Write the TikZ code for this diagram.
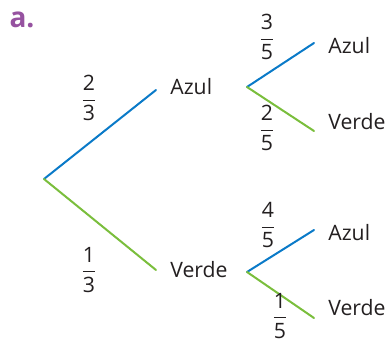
\documentclass[tikz,border=0pt]{standalone}
\usepackage{fontspec}
\setmainfont{Open Sans}
\definecolor{ramoazul}{RGB}{10,122,200}
\definecolor{ramoverde}{RGB}{122,190,60}
\definecolor{letra}{RGB}{150,82,160}
\definecolor{texto}{RGB}{35,31,32}
\newcommand{\fr}[2]{$\displaystyle\frac{\mbox{#1}}{\mbox{#2}}$}
\tikzset{
  azul/.style={draw=ramoazul, line width=1pt},
  verde/.style={draw=ramoverde, line width=1pt},
  rotulo/.style={anchor=west, inner sep=0pt, text=texto},
  prob/.style={inner sep=0pt, text=texto}
}
\begin{document}
\begin{tikzpicture}[x=0.5pt, y=0.5pt, font=\fontsize{10.6}{13}\selectfont, line join=round, line cap=round]
				\useasboundingbox (0,0) rectangle (386,342);
				\path
				(44,163) coordinate (R)
				(156,252) coordinate (A)
				(156,72) coordinate (V)
				(247,255) coordinate (AR)
				(314,299) coordinate (AA)
				(314,211) coordinate (AV)
				(247,70) coordinate (VR)
				(314,112) coordinate (VA)
				(314,24) coordinate (VV)
				;
				\node[text=letra, font=\fontsize{14}{16}\selectfont\bfseries] (item) at (22,322) {a.};
				\node[rotulo] (azul) at (170,255) {Azul};
				\node[rotulo] (verde) at (170,72) {Verde};
				\node[rotulo] (azulazul) at (328,296) {Azul};
				\node[rotulo] (azulverde) at (328,220) {Verde};
				\node[rotulo] (verdeazul) at (328,109) {Azul};
				\node[rotulo] (verdeverde) at (328,34) {Verde};
				\draw[azul] (R)--(A);
				\draw[verde] (R)--(V);
				\draw[azul] (AR)--(AA);
				\draw[verde] (AR)--(AV);
				\draw[azul] (VR)--(VA);
				\draw[verde] (VR)--(VV);
				\node[prob] (pA) at (89,244) {\fr{2}{3}};
				\node[prob] (pV) at (89,72) {\fr{1}{3}};
				\node[prob] (pAA) at (267,305) {\fr{3}{5}};
				\node[prob] (pAV) at (267,214) {\fr{2}{5}};
				\node[prob] (pVA) at (268,117) {\fr{4}{5}};
				\node[prob] (pVV) at (280,26) {\fr{1}{5}};
			\end{tikzpicture}
\end{document}
